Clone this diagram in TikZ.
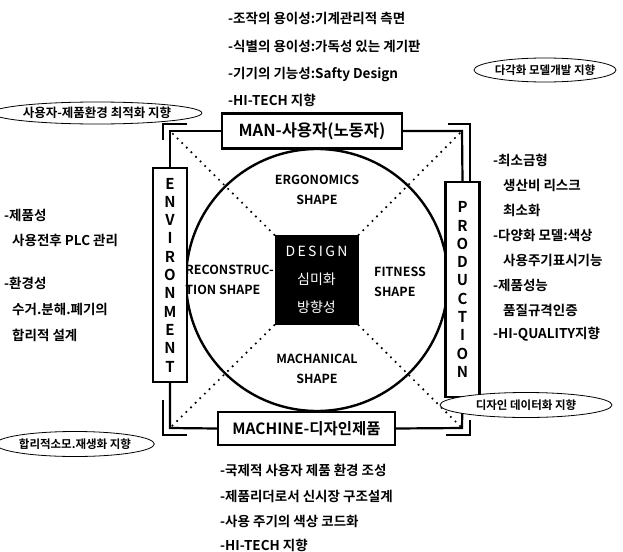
\documentclass[tikz,border=0pt]{standalone}
\usepackage{fontspec}
\setmainfont{Noto Sans CJK KR}[BoldFont={Noto Sans CJK KR Bold}]
\usetikzlibrary{shapes.geometric}
\begin{document}
\begin{tikzpicture}[x=1pt,y=-1pt,
  frameline/.style={line width=2.2pt},
  boxed/.style={draw,line width=2.4pt,fill=white,inner sep=0pt},
  tagell/.style={draw,ellipse,line width=0.8pt,inner sep=0pt,fill=white,font=\bfseries\fontsize{11.5}{13}\selectfont},
  dotline/.style={line width=2.4pt,dash pattern=on 0pt off 6.5pt,line cap=round},
  txt/.style={anchor=west,inner sep=0pt,font=\bfseries\fontsize{13.5}{14}\selectfont},
  shp/.style={inner sep=0pt,align=center,font=\bfseries\fontsize{12.5}{20}\selectfont},
  vert/.style={boxed,minimum width=34pt,align=center,font=\bfseries\fontsize{15}{18.3}\selectfont}]
\useasboundingbox (0,0) rectangle (623,551);

% corner coordinates
\coordinate (tl) at (170,131);
\coordinate (tr) at (462,131);
\coordinate (bl) at (170,428);
\coordinate (br) at (462,428);

% central design box (position only, drawn later)
\node[fill=black,minimum width=84pt,minimum height=90pt,inner sep=0pt] (design) at (316.5,280) {};

% dotted diagonals
\draw[dotline] (design.north west) -- (tl);
\draw[dotline] (design.north east) -- (tr);
\draw[dotline] (design.south west) -- (bl);
\draw[dotline] (design.south east) -- (br);

% circle
\node[draw,circle,minimum size=262pt,line width=2.4pt,inner sep=0pt] (circ) at (317,280) {};

% main boxes
\node[boxed,minimum width=180pt,minimum height=35pt,font=\bfseries\fontsize{16.5}{19}\selectfont] (man) at (312,131) {MAN-사용자(노동자)};
\node[boxed,minimum width=177pt,minimum height=33pt,font=\bfseries\fontsize{15.5}{18}\selectfont] (machine) at (306.5,428.5) {MACHINE-디자인제품};
\node[vert,minimum height=214pt] (env) at (170,275) {E\\N\\V\\I\\R\\O\\N\\M\\E\\N\\T};
\node[vert,minimum height=215pt] (prod) at (462.5,289.5) {P\\R\\O\\D\\U\\C\\T\\I\\O\\N};

% frame connectors
\draw[frameline] (man.west) -- (tl) -- (env.north);
\draw[frameline] (man.east) -- (tr) -- (prod.north);
\draw[frameline] (machine.west) -- (bl) -- (env.south);
\draw[frameline] (machine.east) -- (br) -- (prod.south);
% double-line corner marks
\draw[frameline] (187,124) -- (163,124) -- (163,140);
\draw[frameline] (448,124) -- (470,124) -- (470,182);
\draw[frameline] (163,400) -- (163,435) -- (187,435);
\draw[frameline] (446,435) -- (470,435) -- (470,420);

% design box on top
\node[fill=black,minimum width=84pt,minimum height=90pt,inner sep=0pt,text=white,align=center,font=\fontsize{14}{28}\selectfont] (designtext) at (design) {D\,E\,S\,I\,G\,N\\심미화\\방향성};

% shapes inside circle
\node[shp] (ergo) at (317,190) {ERGONOMICS\\SHAPE};
\node[shp,anchor=east,align=left] (recon) at (274,280) {RECONSTRUC-\\TION SHAPE};
\node[shp,anchor=west,align=left] (fit) at (374,282) {FITNESS\\SHAPE};
\node[shp] (mach) at (317,369) {MACHANICAL\\SHAPE};

% tag ellipses
\node[tagell,minimum width=132pt,minimum height=24pt] (tag1) at (545,70) {다각화 모델개발 지향};
\node[tagell,minimum width=186pt,minimum height=22pt,font=\bfseries\fontsize{12.5}{13}\selectfont] (tag2) at (97,113) {사용자-제품환경 최적화 지향};
\node[tagell,minimum width=172pt,minimum height=25pt] (tag3) at (526,405) {디자인 데이터화 지향};
\node[tagell,minimum width=140pt,minimum height=25pt] (tag4) at (75,444) {합리적소모.재생화 지향};

% top text
\node[txt] (t1) at (228,18) {-조작의 용이성:기계관리적 측면};
\node[txt] (t2) at (228,46) {-식별의 용이성:가독성 있는 계기판};
\node[txt] (t3) at (228,74) {-기기의 기능성:Safty Design};
\node[txt] (t4) at (228,100) {-HI-TECH 지향};

% left text
\node[txt] (l1) at (4,215) {-제품성};
\node[txt] (l2) at (12,240) {사용전후 PLC 관리};
\node[txt] (l3) at (4,283) {-환경성};
\node[txt] (l4) at (12,309) {수거.분해.폐기의};
\node[txt] (l5) at (12,335) {합리적 설계};

% right text
\node[txt] (r1) at (493,160) {-최소금형};
\node[txt] (r2) at (503,185) {생산비 리스크};
\node[txt] (r3) at (503,210) {최소화};
\node[txt] (r4) at (493,235) {-다양화 모델:색상};
\node[txt] (r5) at (503,260) {사용주기표시기능};
\node[txt] (r6) at (493,285) {-제품성능};
\node[txt] (r7) at (503,310) {품질규격인증};
\node[txt] (r8) at (493,334) {-HI-QUALITY지향};

% bottom text
\node[txt] (b1) at (220,470) {-국제적 사용자 제품 환경 조성};
\node[txt] (b2) at (220,496) {-제품리더로서 신시장 구조설계};
\node[txt] (b3) at (220,521) {-사용 주기의 색상 코드화};
\node[txt] (b4) at (220,545) {-HI-TECH 지향};
\end{tikzpicture}
\end{document}
